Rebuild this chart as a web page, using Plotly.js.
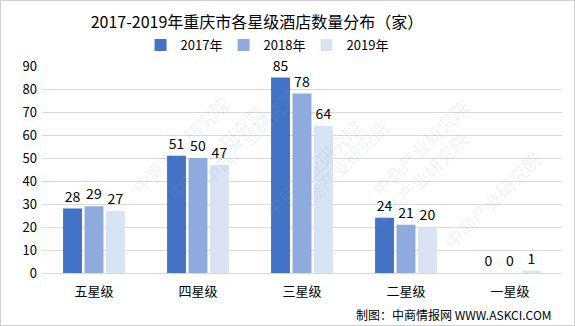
<!DOCTYPE html>
<html><head><meta charset="utf-8">
<script src="https://cdn.plot.ly/plotly-3.0.1.min.js"></script>
<style>html,body{margin:0;padding:0;background:#fff}#c{width:575px;height:326px;position:relative}#b{position:absolute;left:0;top:0;width:575px;height:326px;box-sizing:border-box;border:1px solid #d0d0d0;pointer-events:none}</style>
</head><body><div id="c"></div><div id="b"></div>
<script>
const categories = ["五星级","四星级","三星级","二星级","一星级"];
const seriesNames = ["2017年","2018年","2019年"];
const v2017 = [28,51,85,24,0];
const v2018 = [29,50,78,21,0];
const v2019 = [27,47,64,20,1];
const colors = ["#4472C4","#8FAADC","#DAE3F3"];
const font = '"Noto Sans CJK SC", "DejaVu Sans", sans-serif';
const vals = [v2017,v2018,v2019];
const traces = vals.map((v,i)=>({
  type:"bar", name:seriesNames[i], x:categories, y:v,
  marker:{color:colors[i]}, text:v.map(String), textposition:"outside",
  textfont:{size:14,color:"#000",family:font}, cliponaxis:false
}));
const wm = [];
[[90,35],[230,110],[330,70],[480,40],[130,225],[300,250],[480,180],[560,300]].forEach(p=>{
  wm.push({text:"中商产业研究院",x:p[0]/575,y:1-p[1]/326,xref:"paper",yref:"paper",showarrow:false,
    textangle:-45,font:{size:18,color:"rgba(120,170,215,0.15)",family:font}});
});
const layout = {
  width:575,height:326,
  margin:{l:42,r:13,t:66,b:53},
  paper_bgcolor:"rgba(0,0,0,0)",plot_bgcolor:"rgba(0,0,0,0)",
  font:{family:font,size:13,color:"#000"},
  title:{text:"2017-2019年重庆市各星级酒店数量分布（家）",x:0.447,xanchor:"center",y:0.93,yanchor:"middle",font:{size:16,color:"#000",family:font}},
  legend:{orientation:"h",xref:"container",x:0.461,xanchor:"center",yref:"container",y:0.862,yanchor:"middle",
    font:{size:13,family:font},traceorder:"normal",itemwidth:30,entrywidth:38,entrywidthmode:"pixels"},
  barmode:"group",bargap:0.38,bargroupgap:0.12,
  xaxis:{type:"category",showgrid:false,showline:true,linecolor:"#d9d9d9",ticks:"",tickfont:{size:13,family:font},ticklabelstandoff:6},
  yaxis:{range:[0,90],dtick:10,showgrid:true,gridcolor:"#d9d9d9",zeroline:false,showline:false,ticks:"",tickfont:{size:13,family:font},ticklabelstandoff:4},
  annotations:[...wm,{text:"制图：中商情报网 WWW.ASKCI.COM",xref:"paper",yref:"paper",x:0.985,xanchor:"right",y:-0.2,yanchor:"middle",showarrow:false,font:{size:12,family:font,color:"#000"}}],
  showlegend:true
};
Plotly.newPlot("c",traces,layout,{displayModeBar:false,staticPlot:true});
</script></body></html>
